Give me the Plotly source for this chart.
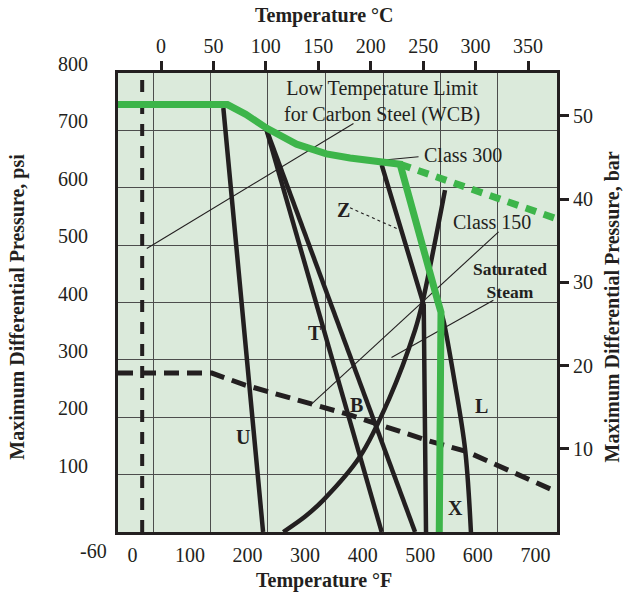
import plotly.graph_objects as go

INK = "#231f20"
GREEN = "#3db54a"
BG = "#dbeadb"
GRID = "#4d4d4d"
FONT = "Liberation Serif"

# ---- axes ----
f_ticks = [0, 100, 200, 300, 400, 500, 600, 700]
c_ticks = [0, 50, 100, 150, 200, 250, 300, 350]
psi_ticks = [100, 200, 300, 400, 500, 600, 700, 800]
bar_ticks = [10, 20, 30, 40, 50]
grid_f = [36, 136, 235, 335, 436, 535, 635]

f_range = [-25, 737.5]
c_range = [-41, 377.6]
psi_range = [0, 800]
bar_range = [0, 800 / 14.5038]

# ---- rating curves (°F, psi) ----
# carbon steel (WCB) Class 300, solid part
c300_f = [-25, 165, 197, 233, 285, 337, 378, 413, 465, 530, 536, 533]
c300_psi = [745, 745, 728, 704, 676, 659, 652, 647, 641, 404, 383, 0]
# Class 300 beyond the seat limit
c300x_f = [465, 734]
c300x_psi = [641, 547]
# Class 150
c150_f = [-25, 138, 196, 308, 378, 511, 581, 737]
c150_psi = [277, 277, 256, 223, 204, 160, 140, 70]
# low temperature limit for carbon steel
ltl_f = [17, 17]
ltl_psi = [0, 790]

# seat curves
u_f = [158, 227]
u_psi = [739, 0]
t_f = [233, 433]
t_psi = [701, 0]
b_f = [233, 491]
b_psi = [701, 0]
z_f = [433, 506, 510]
z_psi = [640, 396, 0]
l_f = [536, 540, 560, 578, 588]
l_psi = [383, 370, 260, 143, 0]
steam_f = [262, 300, 332, 395, 445, 491, 504, 543]
steam_psi = [0, 27, 56, 131, 230, 352, 401, 596]

fig = go.Figure()


def line(x, y, color=INK, width=4.5, dash="solid", shape="linear"):
    fig.add_trace(go.Scatter(x=x, y=y, mode="lines", hoverinfo="skip",
                             line=dict(color=color, width=width, dash=dash, shape=shape)))


# leader lines
leaders = [
    ([25, 384], [494, 712], "solid"),
    ([433, 497], [648, 654], "solid"),
    ([378, 459], [565, 529], "3px,3px"),
    ([636, 311], [523, 223], "solid"),
    ([627, 450], [404, 304], "solid"),
]
for lx, ly, ld in leaders:
    line(lx, ly, width=1.1, dash=ld)

line(ltl_f, ltl_psi, width=4, dash="12px,10px")
line(c150_f, c150_psi, width=5, dash="15px,8px")
line(u_f, u_psi)
line(t_f, t_psi)
line(b_f, b_psi)
line(z_f, z_psi)
line(l_f, l_psi, shape="spline")
line(steam_f, steam_psi, shape="spline")
line(c300x_f, c300x_psi, color=GREEN, width=7, dash="11px,8px")
line(c300_f, c300_psi, color=GREEN, width=7)

# traces on the secondary axes so they render
fig.add_trace(go.Scatter(x=[None], y=[None], xaxis="x2", yaxis="y2", showlegend=False))
fig.add_trace(go.Scatter(x=[None], y=[None], xaxis="x3", yaxis="y", showlegend=False))

SIZE = 20
lab = dict(xref="x", yref="y", showarrow=False, font=dict(family=FONT, size=SIZE, color=INK))
bold = dict(lab, font=dict(family=FONT, size=SIZE, color=INK, weight="bold"))
title_font = dict(family=FONT, size=SIZE, color=INK)
annotations = [
    dict(lab, x=433, y=750, text="Low Temperature Limit<br>for Carbon Steel (WCB)"),
    dict(lab, x=574, y=657, text="Class 300"),
    dict(lab, x=624, y=541, text="Class 150"),
    dict(bold, x=656, y=439, text="Saturated<br>Steam", font=dict(family=FONT, size=17.5, color=INK, weight="bold")),
    dict(bold, x=366, y=561, text="Z"),
    dict(bold, x=317, y=346, text="T"),
    dict(bold, x=390, y=221, text="B"),
    dict(bold, x=192, y=166, text="U"),
    dict(bold, x=607, y=220, text="L"),
    dict(bold, x=562, y=41, text="X"),
    dict(xref="paper", yref="paper", x=-0.055, y=-0.041, text="-60", showarrow=False,
         font=title_font, xanchor="center", yanchor="middle"),
    dict(xref="paper", yref="paper", x=0.47, y=1.126, text="<b>Temperature °C</b>", showarrow=False,
         font=title_font, xanchor="center", yanchor="middle"),
    dict(xref="paper", yref="paper", x=0.47, y=-0.105, text="<b>Temperature °F</b>", showarrow=False,
         font=title_font, xanchor="center", yanchor="middle"),
    dict(xref="paper", yref="paper", x=-0.231, y=0.49, text="<b>Maximum Differential Pressure, psi</b>",
         showarrow=False, textangle=-90, font=title_font, xanchor="center", yanchor="middle"),
    dict(xref="paper", yref="paper", x=1.126, y=0.49, text="<b>Maximum Differential Pressure, bar</b>",
         showarrow=False, textangle=-90, font=title_font, xanchor="center", yanchor="middle"),
]

tickfont = dict(family=FONT, size=SIZE, color=INK)
fig.update_layout(
    width=623, height=598,
    margin=dict(l=118, r=66, t=73, b=66),
    paper_bgcolor="white", plot_bgcolor=BG,
    showlegend=False,
    annotations=annotations,
    xaxis=dict(range=f_range, tickvals=f_ticks, showgrid=False, zeroline=False,
               showline=True, linewidth=3, linecolor=INK, mirror=True,
               ticks="", tickfont=tickfont, ticklabelstandoff=3),
    xaxis2=dict(range=c_range, tickvals=c_ticks, overlaying="x", side="top",
                showgrid=False, zeroline=False, showline=True, linewidth=3, linecolor=INK,
                ticks="outside", ticklen=9, tickwidth=2.5, tickcolor=INK, tickfont=tickfont),
    xaxis3=dict(range=f_range, tickvals=grid_f, overlaying="x", showgrid=True,
                gridcolor=GRID, gridwidth=1.2, showticklabels=False, ticks="", zeroline=False),
    yaxis=dict(range=psi_range, tickvals=psi_ticks, showgrid=True,
               gridcolor=GRID, gridwidth=1.2, zeroline=False,
               showline=True, linewidth=3, linecolor=INK, mirror=True,
               ticks="", tickfont=tickfont, ticklabelshift=-9, ticklabelstandoff=23),
    yaxis2=dict(range=bar_range, tickvals=bar_ticks, overlaying="y", side="right",
                showgrid=False, zeroline=False, showline=True, linewidth=3, linecolor=INK,
                ticks="outside", ticklen=9, tickwidth=2.5, tickcolor=INK, tickfont=tickfont),
)

fig.write_html("out.html")
